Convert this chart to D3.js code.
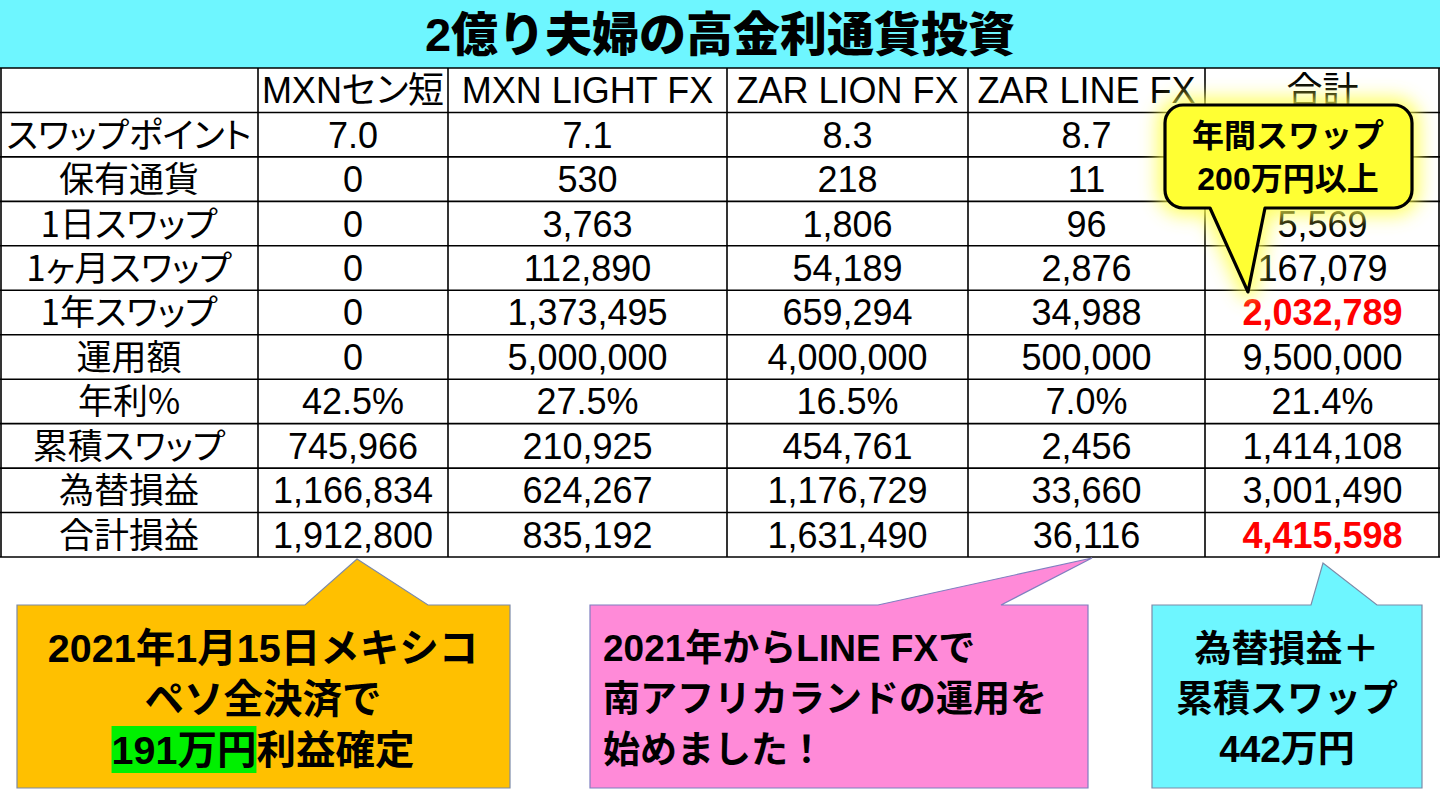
<!DOCTYPE html>
<html><head><meta charset="utf-8">
<script src="https://cdn.jsdelivr.net/npm/d3@7"></script>
<style>
html,body{margin:0;padding:0;background:#fff;}
svg{display:block;}
.jp{font-feature-settings:"palt";}
</style></head><body>
<svg id="c" width="1440" height="810"></svg>
<script>
// ---------- data ----------
const title = "2億り夫婦の高金利通貨投資";
const columns = ["MXNセン短", "MXN LIGHT FX", "ZAR LION FX", "ZAR LINE FX", "合計"];
const rowLabels = ["スワップポイント", "保有通貨", "1日スワップ", "1ヶ月スワップ", "1年スワップ",
                   "運用額", "年利%", "累積スワップ", "為替損益", "合計損益"];
const swapPoint  = [7.0, 7.1, 8.3, 8.7, null];
const holdings   = [0, 530, 218, 11, null];
const daySwap    = [0, 3763, 1806, 96, 5569];
const monthSwap  = [0, 112890, 54189, 2876, 167079];
const yearSwap   = [0, 1373495, 659294, 34988, 2032789];
const invested   = [0, 5000000, 4000000, 500000, 9500000];
const annualRate = [0.425, 0.275, 0.165, 0.070, 0.214];
const cumSwap    = [745966, 210925, 454761, 2456, 1414108];
const fxPL       = [1166834, 624267, 1176729, 33660, 3001490];
const totalPL    = [1912800, 835192, 1631490, 36116, 4415598];
const rowFormats = [".1f", ",", ",", ",", ",", ",", ".1%", ",", ",", ","];
const highlightRows = ["1年スワップ", "合計損益"];   // total column shown in red bold

const calloutYearly = ["年間スワップ", "200万円以上"];
const calloutMXN = ["2021年1月15日メキシコ", "ペソ全決済で", ["191万円", "利益確定"]];
const calloutZAR = ["2021年からLINE FXで", "南アフリカランドの運用を", "始めました！"];
const calloutTotal = ["為替損益＋", "累積スワップ", "442万円"];

const tableValues = [swapPoint, holdings, daySwap, monthSwap, yearSwap, invested,
                     annualRate, cumSwap, fxPL, totalPL];

// ---------- layout ----------
const W = 1440, H = 810;
const svg = d3.select("#c");
const FONT = "'Liberation Sans', Arial, 'Noto Sans CJK JP', sans-serif";
const colEdges = [0, 258, 448, 727, 968, 1205, 1440];
const colKeys = ["__label", ...columns];
const xLeft = d3.scaleOrdinal().domain(colKeys).range(colEdges.slice(0, 6));
const xRight = d3.scaleOrdinal().domain(colKeys).range(colEdges.slice(1));
const xMid = k => (xLeft(k) + xRight(k)) / 2;
const y = d3.scaleBand().domain(d3.range(rowLabels.length + 1)).range([68, 557]);

const defs = svg.append("defs");
const f = defs.append("filter").attr("id", "glow")
  .attr("x", "-40%").attr("y", "-40%").attr("width", "180%").attr("height", "180%");
f.append("feGaussianBlur").attr("stdDeviation", 9);

// title band
svg.append("rect").attr("x", 0).attr("y", 0).attr("width", W).attr("height", 68).attr("fill", "#6ef6ff");
svg.append("text").attr("x", W / 2).attr("y", 34 + 0.37 * 47)
  .attr("text-anchor", "middle").attr("font-family", "'Liberation Sans', 'Noto Sans CJK JP', sans-serif")
  .attr("font-weight", 900).attr("font-size", 47).attr("fill", "#000").text(title);

// header
const gT = svg.append("g");
const FS = 36;
columns.forEach(c => {
  gT.append("text").attr("class", "jp").attr("x", xMid(c)).attr("y", y(0) + y.bandwidth() / 2 + 0.36 * FS)
    .attr("text-anchor", "middle").attr("font-family", FONT).attr("font-size", FS).text(c);
});

// rows
rowLabels.forEach((lab, i) => {
  const cy = y(i + 1) + y.bandwidth() / 2;
  gT.append("text").attr("class", "jp").attr("x", xMid("__label")).attr("y", cy + 0.37 * 35)
    .attr("text-anchor", "middle").attr("font-family", "'Noto Sans CJK JP', sans-serif")
    .attr("font-size", 35).text(lab);
  const fmt = d3.format(rowFormats[i]);
  tableValues[i].forEach((v, j) => {
    if (v === null) return;
    const hi = highlightRows.includes(lab) && j === columns.length - 1;
    gT.append("text").attr("x", xMid(columns[j])).attr("y", cy + 0.36 * FS)
      .attr("text-anchor", "middle").attr("font-family", FONT).attr("font-size", FS)
      .attr("font-weight", hi ? "bold" : "normal").attr("fill", hi ? "#ff0000" : "#000")
      .text(fmt(v));
  });
});

// grid lines
const gL = svg.append("g").attr("stroke", "#000").attr("stroke-width", 1.6);
d3.range(rowLabels.length + 2).forEach(i => {
  const yy = i <= rowLabels.length ? y(i) : y(rowLabels.length) + y.bandwidth();
  gL.append("line").attr("x1", 0).attr("x2", W).attr("y1", yy).attr("y2", yy);
});
colEdges.forEach((x, i) => {
  const xx = i === 0 ? 1 : (i === colEdges.length - 1 ? W - 1 : x);
  gL.append("line").attr("x1", xx).attr("x2", xx).attr("y1", 68).attr("y2", 557);
});

// ---------- callouts ----------
function roundedCallout(x0, y0, x1, y1, r, pa, pb, tip) {
  const p = d3.path();
  p.moveTo(x0 + r, y0);
  p.lineTo(x1 - r, y0); p.arcTo(x1, y0, x1, y0 + r, r);
  p.lineTo(x1, y1 - r); p.arcTo(x1, y1, x1 - r, y1, r);
  p.lineTo(pb, y1); p.lineTo(tip[0], tip[1]); p.lineTo(pa, y1);
  p.lineTo(x0 + r, y1); p.arcTo(x0, y1, x0, y1 - r, r);
  p.lineTo(x0, y0 + r); p.arcTo(x0, y0, x0 + r, y0, r);
  p.closePath();
  return p.toString();
}
function topCallout(x0, y0, x1, y1, pa, pb, tip) {
  const p = d3.path();
  p.moveTo(x0, y0); p.lineTo(pa, y0); p.lineTo(tip[0], tip[1]); p.lineTo(pb, y0);
  p.lineTo(x1, y0); p.lineTo(x1, y1); p.lineTo(x0, y1); p.closePath();
  return p.toString();
}

// yellow callout with glow
const yPath = roundedCallout(1165, 105, 1412, 208, 18, 1210, 1265, [1248, 292]);
svg.append("path").attr("d", yPath).attr("fill", "#ffff50").attr("stroke", "#ffff50")
  .attr("stroke-width", 16).attr("stroke-linejoin", "round").attr("filter", "url(#glow)").attr("opacity", 0.85);
svg.append("path").attr("d", yPath).attr("fill", "#ffff33").attr("stroke", "#000")
  .attr("stroke-width", 3.2).attr("stroke-linejoin", "round");
calloutYearly.forEach((t, i) => {
  svg.append("text").attr("x", 1288).attr("y", 135 + i * 43 + 0.37 * 32).attr("text-anchor", "middle")
    .attr("font-family", FONT).attr("font-weight", "bold").attr("font-size", 32).text(t);
});

const CFS = 37, OFS = 39.5;
// orange
svg.append("path").attr("d", topCallout(17, 605, 510, 788, 305, 428, [357, 559]))
  .attr("fill", "#ffc000").attr("stroke", "#7c8aa8").attr("stroke-width", 1.2);
[0, 1].forEach(i => {
  svg.append("text").attr("x", 263).attr("y", 647 + i * 51 + 0.37 * OFS).attr("text-anchor", "middle")
    .attr("font-family", FONT).attr("font-weight", "bold").attr("font-size", OFS).text(calloutMXN[i]);
});
const l3 = svg.append("text").attr("x", 263).attr("y", 749 + 0.37 * OFS).attr("text-anchor", "middle")
  .attr("font-family", FONT).attr("font-weight", "bold").attr("font-size", OFS);
l3.append("tspan").text(calloutMXN[2][0]);
l3.append("tspan").text(calloutMXN[2][1]);
{
  const node = l3.node();
  const bb = node.getBBox();
  const wHi = node.getSubStringLength(0, calloutMXN[2][0].length);
  svg.insert("rect", function () { return node; })
    .attr("x", bb.x).attr("y", 726).attr("width", wHi).attr("height", 47).attr("fill", "#00f000");
}

// pink
svg.append("path").attr("d", topCallout(590, 605, 1088, 788, 878, 1001, [1092, 558]))
  .attr("fill", "#ff8ad8").attr("stroke", "#7f7fc0").attr("stroke-width", 1.2);
calloutZAR.forEach((t, i) => {
  svg.append("text").attr("x", 603).attr("y", 647 + i * 51 + 0.37 * CFS)
    .attr("font-family", FONT).attr("font-weight", "bold").attr("font-size", CFS).text(t);
});

// cyan
svg.append("path").attr("d", topCallout(1152, 605, 1422, 788, 1311, 1377, [1323, 563]))
  .attr("fill", "#6ef6ff").attr("stroke", "#7c8aa8").attr("stroke-width", 1.2);
calloutTotal.forEach((t, i) => {
  svg.append("text").attr("x", 1287).attr("y", 648 + i * 50 + 0.37 * CFS).attr("text-anchor", "middle")
    .attr("font-family", FONT).attr("font-weight", "bold").attr("font-size", CFS).text(t);
});
</script>
</body></html>
